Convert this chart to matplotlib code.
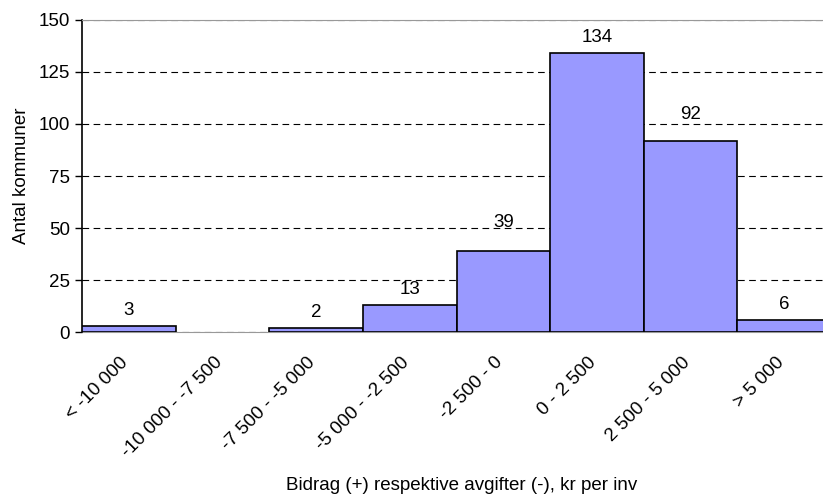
import matplotlib.pyplot as plt
from matplotlib.transforms import ScaledTranslation

plt.rcParams['font.family'] = ['Liberation Sans', 'DejaVu Sans']

categories = ["< -10 000", "-10 000 - -7 500", "-7 500 - -5 000", "-5 000 - -2 500",
              "-2 500 - 0", "0 - 2 500", "2 500 - 5 000", "> 5 000"]
counts = [3, 0, 2, 13, 39, 134, 92, 6]

fig = plt.figure(figsize=(8.23, 4.94), dpi=100)
ax = fig.add_axes([82 / 823, 1 - 332 / 494, 1 - 82 / 823, (332 - 20) / 494])

x = range(len(categories))
# empty bins get no outline so the grey axis line shows through
ax.bar(x, counts, width=1.0, color='#9999FF', edgecolor='black',
       linewidth=[1.2 if v else 0 for v in counts], zorder=3)

fs = 13.5
# a couple of labels sit a bit higher in the original, clear of the gridlines
label_offsets = [5, 5, 5, 5, 14, 5, 13, 5]
for i, v in enumerate(counts):
    if v > 0:
        ax.annotate(str(v), (i, v), xytext=(0, label_offsets[i]), textcoords='offset points',
                    ha='center', va='bottom', fontsize=fs)

ax.set_ylim(0, 150)
ax.set_yticks(range(0, 151, 25))
ax.set_xlim(-0.5, 7.5 - 8 / 93.6)
ax.yaxis.grid(True, linestyle=(0, (6, 4)), color='black', linewidth=0.8, zorder=0)

ax.set_xticks(list(x))
ax.set_xticklabels(categories, rotation=45, ha='right', rotation_mode='anchor', fontsize=fs)
ax.tick_params(axis='x', length=0, pad=12)
shift = ScaledTranslation(-9 / 100, -5 / 100, fig.dpi_scale_trans)
for lbl in ax.get_xticklabels():
    lbl.set_transform(lbl.get_transform() + shift)
ax.tick_params(axis='y', labelsize=fs, length=5, width=1, direction='out')

ax.spines['left'].set_color('black')
ax.spines['left'].set_linewidth(1.2)
ax.spines['bottom'].set_color('#999999')
ax.spines['bottom'].set_zorder(2)
ax.spines['top'].set_color('#999999')
ax.spines['right'].set_visible(False)

ax.set_ylabel('Antal kommuner', fontsize=fs, labelpad=6)
fig.text(462 / 823, 1 - 485 / 494, 'Bidrag (+) respektive avgifter (-), kr per inv',
         ha='center', va='center', fontsize=fs)

fig.savefig('out.png', dpi=100)
